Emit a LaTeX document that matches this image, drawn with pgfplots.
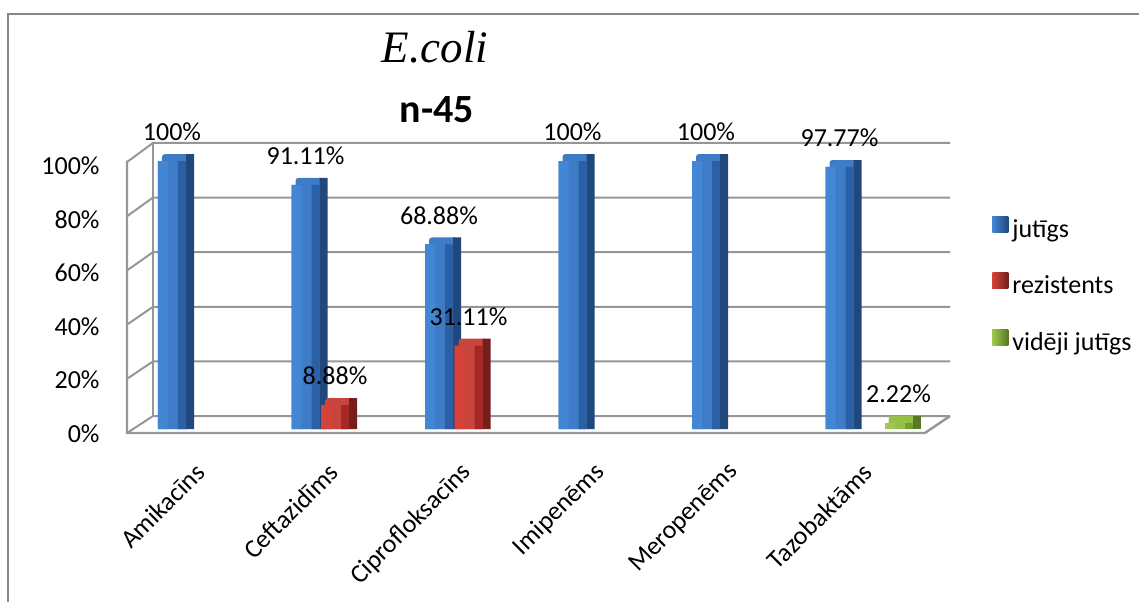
\documentclass[border=0pt]{standalone}
\usepackage{pgfplots}
\pgfplotsset{compat=1.18}
\usepackage{pgfplotstable}
\usepackage{fontspec}
\setmainfont{Carlito}
\newfontfamily\titleserif{Liberation Serif}
\newcommand{\lab}{\fontsize{13}{15}\selectfont}

\definecolor{gridc}{RGB}{150,150,150}
\definecolor{framec}{RGB}{134,134,134}
\definecolor{bluL}{RGB}{66,134,212}
\definecolor{bluM}{RGB}{54,114,192}
\definecolor{bluR}{RGB}{44,96,166}
\definecolor{bluS}{RGB}{33,72,125}
\definecolor{bluT}{RGB}{62,124,200}
\definecolor{redL}{RGB}{212,66,58}
\definecolor{redM}{RGB}{190,50,46}
\definecolor{redR}{RGB}{165,40,38}
\definecolor{redS}{RGB}{118,30,28}
\definecolor{redT}{RGB}{200,68,60}
\definecolor{grnL}{RGB}{160,200,80}
\definecolor{grnM}{RGB}{140,182,64}
\definecolor{grnR}{RGB}{118,158,48}
\definecolor{grnS}{RGB}{88,120,35}
\definecolor{grnT}{RGB}{150,192,70}

\pgfplotstableread{
x jut rez vid
0 100 0 0
1 91.11 8.88 0
2 68.88 31.11 0
3 100 0 0
4 100 0 0
5 97.77 0 2.22
}\datatable

% one 3D-looking bar series: #1 column, #2 centre shift (pt), #3 colour prefix
\newcommand{\barseries}[3]{%
\addplot[ybar, forget plot, bar width=14pt, bar shift={#2+2pt}, draw=none, fill=#3T, rounded corners=1.5pt,
  restrict y to domain=0.001:1000] table[x=x, y expr={(\thisrow{#1}>0)*(\thisrow{#1}+2.6)}] {\datatable};
\addplot[ybar, forget plot, bar width=4pt, bar shift={#2+9pt}, draw=none, fill=#3S,
  restrict y to domain=0.001:1000] table[x=x, y expr={(\thisrow{#1}>0)*(\thisrow{#1}+2.6)}] {\datatable};
\addplot[ybar, forget plot, bar width=5pt, bar shift={#2-4.5pt}, draw=none, fill=#3L,
  restrict y to domain=0.001:1000] table[x=x, y=#1] {\datatable};
\addplot[ybar, forget plot, bar width=4pt, bar shift={#2+5pt}, draw=none, fill=#3R,
  restrict y to domain=0.001:1000] table[x=x, y=#1] {\datatable};
}

\begin{document}
\begin{tikzpicture}
\draw[framec, line width=1pt] (4pt,-10pt) -- (4pt,293.5pt) -- (580pt,293.5pt);
\node[anchor=base, font=\titleserif\itshape\fontsize{22.5}{24}\selectfont] at (217.5pt,269pt) {E.coli};
\node[anchor=base, font=\bfseries\fontsize{20}{24}\selectfont] at (218.5pt,239.5pt) {n-45};
\begin{axis}[
  at={(67.375pt,86pt)}, anchor=south west,
  scale only axis, width=400.5pt, height=134pt,
  xmin=-0.5, xmax=5.5, ymin=0, ymax=100,
  clip=false,
  axis line style={draw=none}, tick style={draw=none},
  /pgf/number format/assume math mode=true,
  xtick={0,...,5},
  xticklabels={Amikacīns, Ceftazidīms, Ciprofloksacīns, Imipenēms, Meropenēms, Tazobaktāms},
  xticklabel style={font=\lab, xshift=-0.5pt, yshift=-19.5pt, rotate=45, anchor=east, inner sep=0pt},
  ytick={0,20,...,100},
  yticklabel={\pgfmathprintnumber{\tick}\%},
  yticklabel style={font=\lab, anchor=east, inner sep=0pt, xshift=-17.4pt, yshift=-2.4pt},
  legend cell align=left,
  legend style={at={(axis cs:5.921,53.3)}, anchor=west, draw=none, fill=none, inner sep=0pt,
    font=\lab, row sep=14.75pt, column sep=2pt,
    nodes={inner sep=0pt, text height=9pt, text depth=3pt}},
]
% frame (3D walls and floor)
\pgfplotsinvokeforeach{0,20,40,60,80,100}{
  \draw[gridc, line width=1pt] (axis cs:-0.558,{-1.49+1.011*#1}) -- (axis cs:-0.363,{4.85+1.019*#1}) -- (axis cs:5.607,{4.85+1.019*#1});
}
\draw[gridc, line width=1.2pt] (axis cs:-0.558,100.1) -- (axis cs:-0.558,-1.49) -- (axis cs:5.419,-1.49) -- (axis cs:5.607,4.85);
\draw[gridc, line width=1pt] (axis cs:-0.363,4.85) -- (axis cs:-0.363,106.75);

% jutigs
\addplot[ybar, bar width=14pt, bar shift=-14.75pt, draw=none, fill=bluM,
  restrict y to domain=0.001:1000,
  nodes near coords={\pgfmathprintnumber[fixed,precision=2]{\pgfplotspointmeta}\%},
  every node near coord/.append style={font=\lab, anchor=center, xshift=-14.75pt, yshift=14.5pt, text=black},
  legend image code/.code={\shade[left color=bluL, right color=bluS] (0pt,-0.5pt) rectangle (8pt,7.5pt);}
  ] table[x=x, y=jut] {\datatable};
\addlegendentry{jutīgs}
\barseries{jut}{-14.75pt}{blu}

% rezistents
\addplot[ybar, bar width=14pt, bar shift=0pt, draw=none, fill=redM,
  restrict y to domain=0.001:1000,
  nodes near coords={\pgfmathprintnumber[fixed,precision=2]{\pgfplotspointmeta}\%},
  every node near coord/.append style={font=\lab, anchor=center, yshift=14.5pt, text=black},
  legend image code/.code={\shade[left color=redL, right color=redS] (0pt,-0.5pt) rectangle (8pt,7.5pt);}
  ] table[x=x, y=rez] {\datatable};
\addlegendentry{rezistents}
\barseries{rez}{0pt}{red}

% videji jutigs
\addplot[ybar, bar width=14pt, bar shift=14.75pt, draw=none, fill=grnM,
  restrict y to domain=0.001:1000,
  nodes near coords={\pgfmathprintnumber[fixed,precision=2]{\pgfplotspointmeta}\%},
  every node near coord/.append style={font=\lab, anchor=center, xshift=14.75pt, yshift=14.5pt, text=black},
  legend image code/.code={\shade[left color=grnL, right color=grnS] (0pt,-0.5pt) rectangle (8pt,7.5pt);}
  ] table[x=x, y=vid] {\datatable};
\addlegendentry{vidēji jutīgs}
\barseries{vid}{14.75pt}{grn}
\end{axis}
\pgfresetboundingbox
\useasboundingbox (0pt,0pt) rectangle (569.5pt,300.5pt);
\end{tikzpicture}
\end{document}
